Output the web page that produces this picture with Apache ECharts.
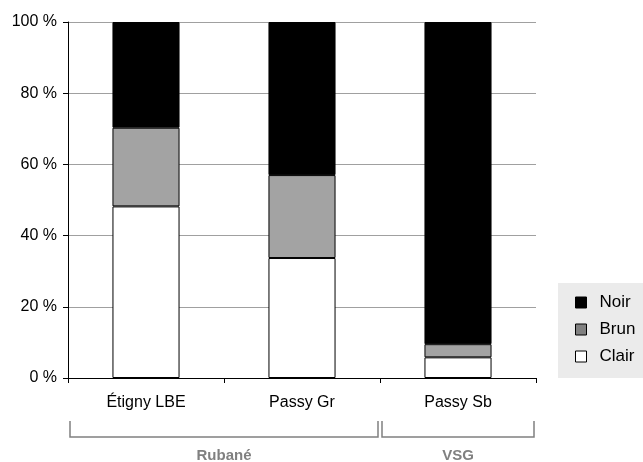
<!DOCTYPE html>
<html><head><meta charset="utf-8">
<script src="https://cdn.jsdelivr.net/npm/echarts@6/dist/echarts.min.js"></script>
<style>html,body{margin:0;padding:0;background:#fff}#c{width:643px;height:462px}</style>
</head><body><div id="c"></div>
<script>
const categories = ['Étigny LBE', 'Passy Gr', 'Passy Sb'];
const clair = [48.2, 33.7, 5.8];
const brun = [22.1, 23.3, 3.7];
const noir = [29.7, 43.0, 90.5];
const groups = [{name: 'Rubané', from: 0, to: 1}, {name: 'VSG', from: 2, to: 2}];

const font = 'Liberation Sans, Arial, sans-serif';
const chart = echarts.init(document.getElementById('c'), null, {renderer: 'canvas'});
const barStyle = (c) => ({color: c, borderColor: '#000', borderWidth: 1});
const option = {
  animation: false,
  grid: {left: 68, right: 107, top: 22, bottom: 84},
  legend: {
    orient: 'vertical', left: 558, top: 283, width: 85,
    backgroundColor: '#ebebeb',
    padding: [11, 20, 13, 17],
    itemWidth: 11, itemHeight: 11, itemGap: 10,
    textStyle: {fontFamily: font, fontSize: 17, color: '#000', padding: [0, 0, 0, 8]},
    data: [
      {name: 'Noir', icon: 'rect', itemStyle: {color: '#000', borderColor: '#000', borderWidth: 1}},
      {name: 'Brun', icon: 'rect', itemStyle: {color: '#808080', borderColor: '#000', borderWidth: 1}},
      {name: 'Clair', icon: 'rect', itemStyle: {color: '#fff', borderColor: '#000', borderWidth: 1}}
    ]
  },
  xAxis: {
    type: 'category', data: categories,
    axisLine: {lineStyle: {color: '#000', width: 1}},
    axisTick: {show: true, length: 5, lineStyle: {color: '#000'}},
    axisLabel: {fontFamily: font, fontSize: 16, color: '#000', margin: 17}
  },
  yAxis: {
    type: 'value', min: 0, max: 100, interval: 20,
    axisLine: {show: true, lineStyle: {color: '#000'}},
    axisTick: {show: true, length: 5, lineStyle: {color: '#000'}},
    axisLabel: {fontFamily: font, fontSize: 16, color: '#000', formatter: '{value} %', margin: 11},
    splitLine: {lineStyle: {color: '#a0a0a0', width: 1}}
  },
  series: [
    {name: 'Clair', type: 'bar', stack: 's', data: clair, barWidth: '43%', itemStyle: barStyle('#fff')},
    {name: 'Brun', type: 'bar', stack: 's', data: brun, barWidth: '43%', itemStyle: barStyle('#a3a3a3')},
    {name: 'Noir', type: 'bar', stack: 's', data: noir, barWidth: '43%', itemStyle: barStyle('#000')}
  ]
};
chart.setOption(option);

// group brackets below category labels
const half = (chart.convertToPixel({xAxisIndex: 0}, categories[1]) - chart.convertToPixel({xAxisIndex: 0}, categories[0])) / 2;
const graphics = [];
const yTop = 421, yBot = 437;
groups.forEach((g) => {
  const x0 = chart.convertToPixel({xAxisIndex: 0}, categories[g.from]) - half + 2;
  const x1 = chart.convertToPixel({xAxisIndex: 0}, categories[g.to]) + half - 2;
  graphics.push({type: 'polyline', silent: true,
    shape: {points: [[x0, yTop], [x0, yBot], [x1, yBot], [x1, yTop]]},
    style: {stroke: '#808080', lineWidth: 1.5, fill: null}});
  graphics.push({type: 'text', silent: true, x: (x0 + x1) / 2, y: 456,
    style: {text: g.name, fontFamily: font, fontSize: 15, fontWeight: 'bold', fill: '#808080', align: 'center', verticalAlign: 'middle'}});
});
chart.setOption({graphic: graphics});
</script></body></html>
